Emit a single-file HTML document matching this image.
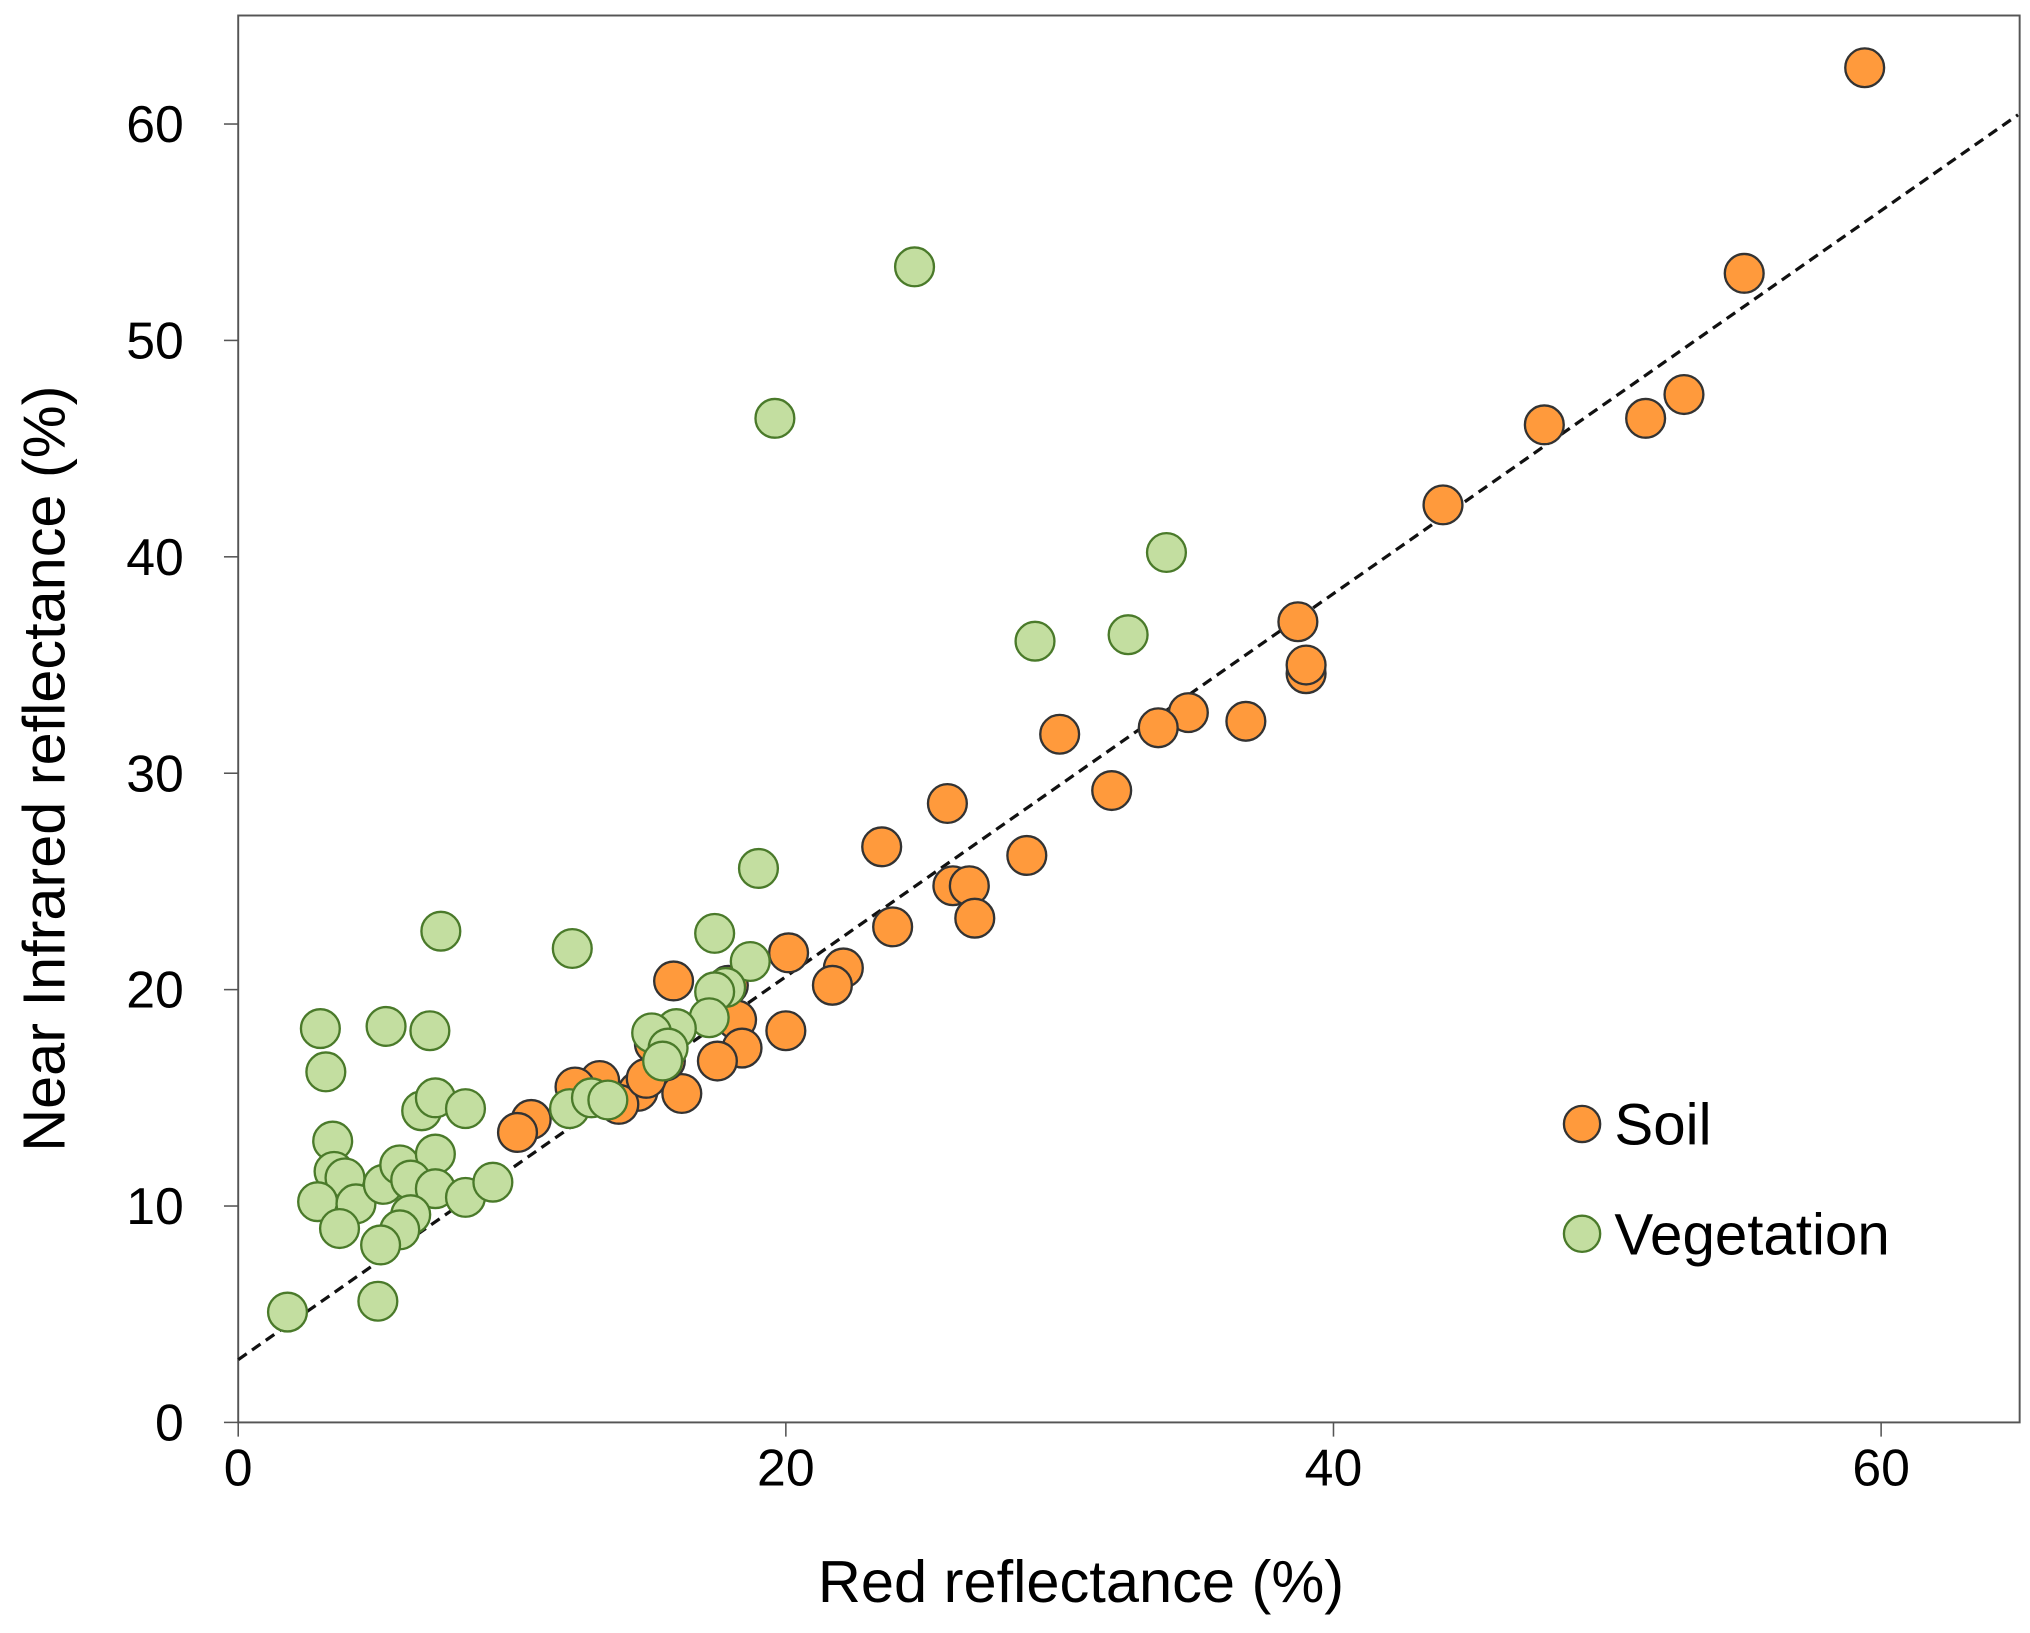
<!DOCTYPE html>
<html><head><meta charset="utf-8"><style>
html,body{margin:0;padding:0;background:#fff;}
svg{display:block;font-family:"Liberation Sans",Arial,sans-serif;}
</style></head><body>
<svg id="chart" width="2030" height="1633" viewBox="0 0 1568 1264" preserveAspectRatio="none" xmlns="http://www.w3.org/2000/svg">
<rect x="184" y="12" width="1376" height="1089" fill="#fff" stroke="#555" stroke-width="1.5"/>
<g id="axes"></g>
<g id="marks"></g>
<text x="835" y="1240" font-size="46" text-anchor="middle">Red reflectance (%)</text>
<text transform="translate(50,595) rotate(-90)" font-size="46" text-anchor="middle">Near Infrared reflectance (%)</text>
<g>
<circle cx="1222" cy="870" r="14" fill="#ff9a3c" stroke="#333" stroke-width="1.8"/>
<text x="1247" y="886" font-size="45">Soil</text>
<circle cx="1222" cy="955" r="14" fill="#c3dea0" stroke="#4a7a2a" stroke-width="1.8"/>
<text x="1247" y="971" font-size="45">Vegetation</text>
</g>
</svg>
<script>
const xTicks=[0,20,40,60];
const yTicks=[0,10,20,30,40,50,60];
const soilX=[59.4,55.0,52.8,51.4,47.7,44.0,38.7,39.0,39.0,36.8,34.7,33.6,31.9,30.0,28.8,25.9,26.1,26.7,26.9,23.5,23.9,20.1,22.1,21.7,20.0,15.9,17.9,18.2,18.4,17.5,16.2,15.6,15.2,14.6,13.9,13.2,12.3,10.7,10.2,14.9];
const soilY=[62.6,53.1,47.5,46.4,46.1,42.4,37.0,34.6,35.0,32.4,32.8,32.1,29.2,31.8,26.2,28.6,24.8,24.8,23.3,26.6,22.9,21.7,21.0,20.2,18.1,20.4,20.2,18.6,17.3,16.7,15.2,16.7,17.5,15.3,14.7,15.8,15.5,14.0,13.4,15.9];
const vegX=[24.7,19.6,33.9,32.5,29.1,19.0,7.4,12.2,17.4,18.7,17.8,17.4,17.2,16.0,15.1,15.7,15.5,3.0,5.4,7.0,3.2,6.7,7.2,8.3,12.1,12.9,13.5,3.45,3.5,3.9,2.9,4.3,3.7,5.3,5.9,7.2,6.3,7.2,6.3,5.9,5.2,8.3,9.3,1.8,5.1];
const vegY=[53.4,46.4,40.2,36.4,36.1,25.6,22.7,21.9,22.6,21.3,20.1,19.9,18.7,18.2,18.0,17.3,16.7,18.2,18.3,18.1,16.2,14.4,15.0,14.5,14.5,15.0,14.9,13.0,11.6,11.3,10.2,10.1,8.96,11.0,11.9,12.4,11.2,10.8,9.6,8.9,8.2,10.4,11.1,5.1,5.6];
const fitIntercept=2.9, fitSlope=0.885, xMax=65;
const NS='http://www.w3.org/2000/svg';
const sx=v=>184+v*21.15;
const sy=v=>1101-v*16.75;
const axes=document.getElementById('axes'), marks=document.getElementById('marks');
function mk(tag,attrs,parent){const e=document.createElementNS(NS,tag);for(const k in attrs)e.setAttribute(k,attrs[k]);parent.appendChild(e);return e;}
xTicks.forEach(t=>{
  const l=mk('line',{x1:sx(t),x2:sx(t),y1:1101,y2:1112,stroke:'#555','stroke-width':1.2},axes);
  
  
  const tx=mk('text',{x:sx(t),y:1150,'font-size':40,'text-anchor':'middle'},axes);
  tx.textContent=t;
  
  
});
yTicks.forEach(t=>{
  const l=mk('line',{x1:173,x2:184,y1:sy(t),y2:sy(t),stroke:'#555','stroke-width':1.2},axes);
  
  
  const tx=mk('text',{x:142,y:sy(t)+14,'font-size':40,'text-anchor':'end'},axes);
  tx.textContent=t;
  
  
});
const fit=mk('line',{x1:sx(0),y1:sy(fitIntercept),x2:sx(xMax),y2:sy(fitIntercept+fitSlope*xMax),stroke:'#111','stroke-width':2.5,'stroke-dasharray':'8 5'},marks);


soilX.forEach((x,i)=>{
  const c=mk('circle',{cx:sx(x),cy:sy(soilY[i]),r:15,fill:'#ff9a3c',stroke:'#333','stroke-width':1.8},marks);
  
  
});
vegX.forEach((x,i)=>{
  const c=mk('circle',{cx:sx(x),cy:sy(vegY[i]),r:15,fill:'#c3dea0',stroke:'#4a7a2a','stroke-width':1.8},marks);
  
  
});
</script>
</body></html>
